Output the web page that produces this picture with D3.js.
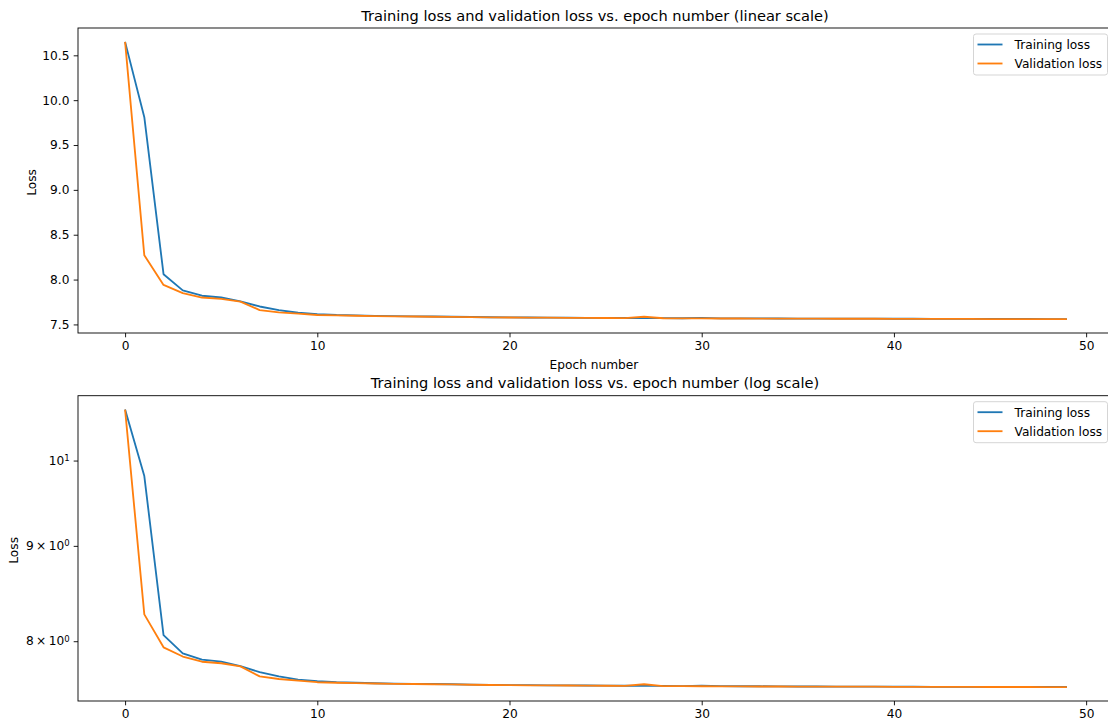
<!DOCTYPE html>
<html>
<head>
<meta charset="utf-8">
<script src="https://cdn.jsdelivr.net/npm/d3@7"></script>
<style>
  html, body { margin: 0; padding: 0; background: #fff; }
  svg { display: block; }
  text { font-family: "DejaVu Sans", sans-serif; fill: #000; }
</style>
</head>
<body>
<svg id="chart" width="1108" height="722"></svg>
<script>
// ---------------- data ----------------
const epochs = d3.range(0, 50);
const trainingLoss = [10.65, 9.81, 8.06, 7.88, 7.82, 7.80, 7.757, 7.70, 7.66, 7.63,
  7.615, 7.605, 7.600, 7.595, 7.592, 7.590, 7.588, 7.586, 7.583, 7.580,
  7.578, 7.577, 7.576, 7.575, 7.574, 7.573, 7.572, 7.571, 7.570, 7.569,
  7.573, 7.568, 7.567, 7.567, 7.566, 7.565, 7.565, 7.564, 7.564, 7.564,
  7.563, 7.563, 7.562, 7.562, 7.562, 7.561, 7.561, 7.561, 7.560, 7.560];
const validationLoss = [10.65, 8.27, 7.94, 7.85, 7.80, 7.785, 7.755, 7.66, 7.635, 7.62,
  7.605, 7.600, 7.597, 7.593, 7.590, 7.588, 7.586, 7.584, 7.581, 7.579,
  7.577, 7.576, 7.575, 7.574, 7.573, 7.572, 7.570, 7.586, 7.569, 7.568,
  7.567, 7.566, 7.566, 7.565, 7.565, 7.564, 7.564, 7.563, 7.563, 7.563,
  7.562, 7.562, 7.561, 7.561, 7.561, 7.560, 7.560, 7.560, 7.559, 7.559];
const seriesNames = ["Training loss", "Validation loss"];
const seriesColors = ["#1f77b4", "#ff7f0e"];
const xTicks = [0, 10, 20, 30, 40, 50];
const linearYTicks = [7.5, 8.0, 8.5, 9.0, 9.5, 10.0, 10.5];
const logYTicks = [8, 9, 10];
const titles = [
  "Training loss and validation loss vs. epoch number (linear scale)",
  "Training loss and validation loss vs. epoch number (log scale)"
];

// ---------------- layout ----------------
const svg = d3.select("#chart");
const left = 78, right = 1114;
const panels = [
  { top: 28, bottom: 333, log: false, title: titles[0], xlabel: "Epoch number" },
  { top: 395.7, bottom: 701, log: true, title: titles[1], xlabel: null }
];
const FS = 12.2, TFS = 14.6;

const x = d3.scaleLinear()
  .domain([-0.05 * 49, 49 * 1.05])
  .range([left, right]);

const allVals = trainingLoss.concat(validationLoss);
const vmin = d3.min(allVals), vmax = d3.max(allVals);

panels.forEach((p, pi) => {
  const g = svg.append("g");
  let y;
  if (!p.log) {
    const pad = (vmax - vmin) * 0.05;
    y = d3.scaleLinear().domain([vmin - pad, vmax + pad]).range([p.bottom, p.top]);
  } else {
    const lmin = Math.log10(vmin), lmax = Math.log10(vmax);
    const pad = (lmax - lmin) * 0.05;
    y = d3.scaleLog().domain([Math.pow(10, lmin - pad), Math.pow(10, lmax + pad)]).range([p.bottom, p.top]);
  }

  // lines
  const line = d3.line().x((d, i) => x(epochs[i])).y(d => y(d));
  [trainingLoss, validationLoss].forEach((s, si) => {
    g.append("path")
      .attr("d", line(s))
      .attr("fill", "none")
      .attr("stroke", seriesColors[si])
      .attr("stroke-width", 1.83)
      .attr("stroke-linejoin", "round");
  });

  // spines
  g.append("rect")
    .attr("x", left).attr("y", p.top)
    .attr("width", right - left).attr("height", p.bottom - p.top)
    .attr("fill", "none").attr("stroke", "#000").attr("stroke-width", 0.9);

  // x axis
  const xAxis = d3.axisBottom(x).tickValues(xTicks).tickSize(4.3).tickPadding(4.3)
    .tickFormat(d3.format("d"));
  const xg = g.append("g").attr("transform", `translate(0,${p.bottom})`).call(xAxis);
  xg.select(".domain").remove();
  xg.selectAll(".tick line").attr("stroke", "#000").attr("stroke-width", 0.9);
  xg.selectAll(".tick text").attr("font-size", FS).attr("font-family", "DejaVu Sans").attr("fill", "#000");

  // y axis
  if (!p.log) {
    const yAxis = d3.axisLeft(y).tickValues(linearYTicks).tickSize(4.3).tickPadding(4.3)
      .tickFormat(d3.format(".1f"));
    const yg = g.append("g").attr("transform", `translate(${left},0)`).call(yAxis);
    yg.select(".domain").remove();
    yg.selectAll(".tick line").attr("stroke", "#000").attr("stroke-width", 0.9);
    yg.selectAll(".tick text").attr("font-size", FS).attr("font-family", "DejaVu Sans").attr("fill", "#000");
  } else {
    const yAxis = d3.axisLeft(y).tickValues(logYTicks).tickSize(4.3).tickPadding(4.3)
      .tickFormat(() => "");
    const yg = g.append("g").attr("transform", `translate(${left},0)`).call(yAxis);
    yg.select(".domain").remove();
    yg.selectAll(".tick line").attr("stroke", "#000").attr("stroke-width", 0.9);
    yg.selectAll(".tick text").remove();
    logYTicks.forEach(v => {
      const t = g.append("text")
        .attr("x", left - 8.3).attr("y", y(v)).attr("dy", "0.35em")
        .attr("text-anchor", "end").attr("font-size", FS);
      if (v === 10) {
        t.append("tspan").text("10");
        t.append("tspan").attr("dy", "-0.45em").attr("font-size", FS * 0.7).text("1");
      } else {
        t.append("tspan").text(v + "\u2009\u00d7\u200910");
        t.append("tspan").attr("dy", "-0.45em").attr("font-size", FS * 0.7).text("0");
      }
    });
  }

  // y label
  const ylx = p.log ? 18 : 36;
  const cy = (p.top + p.bottom) / 2 + 2;
  g.append("text")
    .attr("transform", `translate(${ylx},${cy}) rotate(-90)`)
    .attr("text-anchor", "middle").attr("font-size", FS).text("Loss");

  // x label
  if (p.xlabel) {
    g.append("text")
      .attr("x", (left + right) / 2 - 2).attr("y", p.bottom + 36)
      .attr("text-anchor", "middle").attr("font-size", FS).text(p.xlabel);
  }

  // title
  g.append("text")
    .attr("x", (left + right) / 2 - 1).attr("y", p.top - 7.3)
    .attr("text-anchor", "middle").attr("font-size", TFS).text(p.title);

  // legend
  const lg = g.append("g").attr("transform", `translate(973.5,${p.top + 6})`);
  lg.append("rect")
    .attr("x", 0).attr("y", 0).attr("width", 134).attr("height", 41)
    .attr("rx", 2.5).attr("ry", 2.5)
    .attr("fill", "#fff").attr("fill-opacity", 0.8)
    .attr("stroke", "#d5d5d5").attr("stroke-width", 1);
  seriesNames.forEach((name, i) => {
    const ry = 10.5 + i * 19;
    lg.append("line")
      .attr("x1", 4).attr("x2", 29).attr("y1", ry).attr("y2", ry)
      .attr("stroke", seriesColors[i]).attr("stroke-width", 1.83);
    lg.append("text")
      .attr("x", 41).attr("y", ry).attr("dy", "0.36em")
      .attr("font-size", FS).text(name);
  });
});
</script>
</body>
</html>
